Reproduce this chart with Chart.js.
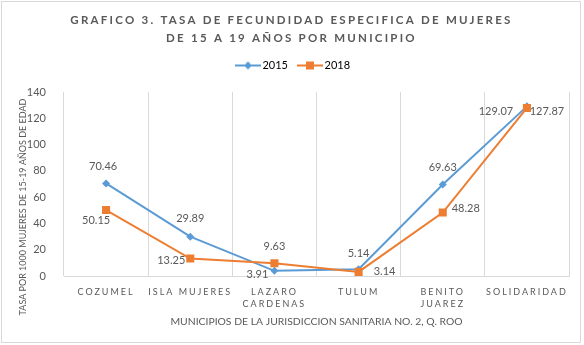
<!DOCTYPE html>
<html>
<head>
<meta charset="utf-8">
<script src="https://cdn.jsdelivr.net/npm/chart.js@4.4.0/dist/chart.umd.min.js"></script>
<style>
  html, body { margin: 0; padding: 0; background: #fff; }
  canvas { display: block; }
</style>
</head>
<body>
<canvas id="tasaChart" width="584" height="345"></canvas>
<script>
// municipios y tasas por 1000 mujeres de 15-19 años
const municipios = ['COZUMEL', 'ISLA MUJERES', ['LAZARO', 'CARDENAS'], 'TULUM', ['BENITO', 'JUAREZ'], 'SOLIDARIDAD'];
const tasa2015 = [70.46, 29.89, 3.91, 5.14, 69.63, 129.07];
const tasa2018 = [50.15, 13.25, 9.63, 3.14, 48.28, 127.87];
const yTicks = [0, 20, 40, 60, 80, 100, 120, 140];

// where each value label sits relative to its point (dx, dy)
const offsets2015 = [[-3, -17], [0, -18], [-17, 4], [0, -16], [0, -17], [-31, 5]];
const offsets2018 = [[-10, 10], [-19, 2], [0, -17], [26, 0], [23, -4], [20, 4]];

const AZUL = '#5B9BD5';
const NARANJA = '#ED7D31';
const GRIS = '#595959';

Chart.defaults.font.family = 'Lato';
Chart.defaults.color = GRIS;

// little line + marker swatch for the legend
function swatch(color, style, radius) {
  const c = document.createElement('canvas');
  c.width = 26; c.height = 12;
  const g = c.getContext('2d');
  g.strokeStyle = color;
  g.lineWidth = 2;
  g.beginPath(); g.moveTo(0, 6); g.lineTo(26, 6); g.stroke();
  g.fillStyle = color;
  Chart.helpers.drawPoint(g, { pointStyle: style, radius: radius, borderWidth: 0 }, 13, 6);
  return c;
}

// run a draw method with canvas letter spacing / shift applied
function tweak(obj, fn, ls, dx, dy) {
  if (!obj || obj['_tw_' + fn]) return;
  const orig = obj[fn];
  obj[fn] = function (...args) {
    const ctx = this.ctx;
    ctx.save();
    ctx.letterSpacing = ls;
    ctx.translate(dx, dy);
    orig.apply(this, args);
    ctx.restore();
  };
  obj['_tw_' + fn] = true;
}

const textTweaks = {
  id: 'textTweaks',
  beforeLayout(chart) {
    // extra gap between legend and plot
    const lg = chart.legend;
    if (lg && !lg._tw_fit) {
      const fit = lg.fit;
      lg.fit = function () { fit.call(this); this.height += 11; };
      lg._tw_fit = true;
    }
  },
  beforeDraw(chart) {
    tweak(chart.titleBlock, 'draw', '2.25px', 3, 0);
    tweak(chart.legend, 'draw', '0px', 6, 0);
    tweak(chart.scales.x, 'drawLabels', '2px', 0, 0);
    tweak(chart.scales.y, 'drawTitle', '0px', 0, 23);
  }
};

const frame = {
  id: 'frame',
  beforeDraw(chart) {
    const ctx = chart.ctx;
    ctx.save();
    ctx.fillStyle = '#fff';
    ctx.fillRect(0, 0, chart.width, chart.height);
    ctx.strokeStyle = '#d9d9d9';
    ctx.lineWidth = 1;
    ctx.strokeRect(1.5, 1.5, 579, 341);
    ctx.restore();
  }
};

const valueLabels = {
  id: 'valueLabels',
  afterDatasetsDraw(chart) {
    const ctx = chart.ctx;
    ctx.save();
    ctx.font = '11px Lato';
    ctx.fillStyle = GRIS;
    ctx.textAlign = 'center';
    ctx.textBaseline = 'middle';
    chart.data.datasets.forEach((ds, di) => {
      const meta = chart.getDatasetMeta(di);
      meta.data.forEach((pt, i) => {
        const [dx, dy] = ds.labelOffsets[i];
        ctx.fillText(ds.data[i].toFixed(2), pt.x + dx, pt.y + dy);
      });
    });
    ctx.restore();
  }
};

const markers = [swatch(AZUL, 'rectRot', 4), swatch(NARANJA, 'rect', 5.7)];

new Chart(document.getElementById('tasaChart'), {
  type: 'line',
  data: {
    labels: municipios,
    datasets: [
      {
        label: '2015', data: tasa2015, labelOffsets: offsets2015,
        borderColor: AZUL, backgroundColor: AZUL, borderWidth: 2,
        pointStyle: 'rectRot', pointRadius: 4, pointBorderWidth: 0,
        tension: 0, order: 1
      },
      {
        label: '2018', data: tasa2018, labelOffsets: offsets2018,
        borderColor: NARANJA, backgroundColor: NARANJA, borderWidth: 2,
        pointStyle: 'rect', pointRadius: 5.7, pointBorderWidth: 0,
        tension: 0, order: 0
      }
    ]
  },
  options: {
    responsive: false,
    animation: false,
    layout: { padding: { left: 8, right: 15, top: 0, bottom: 0 } },
    plugins: {
      tooltip: { enabled: false },
      title: {
        display: true,
        text: ['GRAFICO 3. TASA DE FECUNDIDAD ESPECIFICA DE MUJERES', 'DE 15 A 19 AÑOS POR MUNICIPIO'],
        color: GRIS,
        font: { size: 11.5, weight: 'bold', lineHeight: '17.5px' },
        padding: { top: 12, bottom: 0 }
      },
      legend: {
        position: 'top',
        labels: {
          usePointStyle: true,
          pointStyleWidth: 18,
          boxHeight: 11,
          padding: 13,
          font: { size: 11 },
          color: GRIS,
          generateLabels(chart) {
            return chart.data.datasets.map((ds, i) => ({
              text: ds.label,
              pointStyle: markers[i],
              fillStyle: ds.borderColor,
              strokeStyle: ds.borderColor,
              lineWidth: 0,
              hidden: false,
              datasetIndex: i
            }));
          }
        }
      }
    },
    scales: {
      x: {
        offset: true,
        grid: { offset: true, color: '#d9d9d9', drawTicks: false },
        border: { display: true, color: '#d9d9d9' },
        ticks: { font: { size: 9, lineHeight: '12.3px' }, padding: 9.5, maxRotation: 0, autoSkip: false, color: GRIS },
        title: {
          display: true,
          text: 'MUNICIPIOS DE LA JURISDICCION SANITARIA NO. 2, Q. ROO',
          font: { size: 10.4, lineHeight: '13px' },
          padding: { top: 0, bottom: 17 },
          color: GRIS
        },
        afterFit(scale) { scale.height = 69; }
      },
      y: {
        min: yTicks[0],
        max: yTicks[yTicks.length - 1],
        afterBuildTicks(scale) { scale.ticks = yTicks.map(v => ({ value: v })); },
        grid: { display: false },
        border: { display: false },
        ticks: { font: { size: 11 }, padding: 10, color: GRIS },
        title: {
          display: true,
          text: 'TASA POR 1000 MUJERES DE 15-19 AÑOS DE EDAD',
          font: { size: 9, lineHeight: '12px' },
          padding: { top: 9, bottom: 0 },
          color: GRIS
        },
        afterFit(scale) { scale.width = 56; }
      }
    }
  },
  plugins: [frame, textTweaks, valueLabels]
});
</script>
</body>
</html>
